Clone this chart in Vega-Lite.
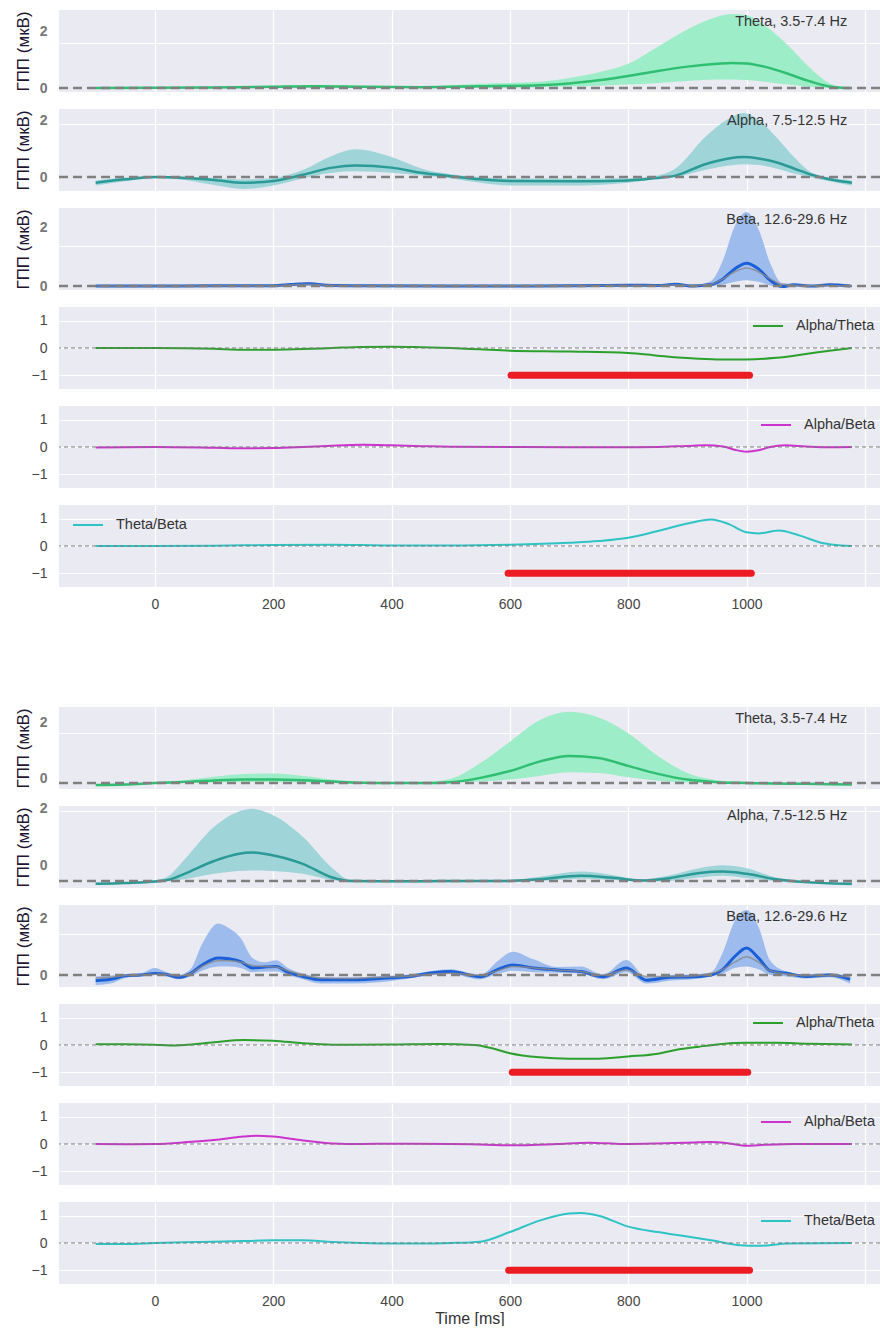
{
  "$schema": "https://vega.github.io/schema/vega-lite/v6.json",
  "background": "white",
  "padding": {"left": 14, "top": 10, "right": 0, "bottom": 0},
  "spacing": 17,
  "bounds": "flush",
  "resolve": {"scale": {"color": "independent"}, "legend": {"color": "independent"}},
  "config": {
    "view": {"fill": "#eaeaf2", "stroke": null},
    "font": "Liberation Sans",
    "axis": {"domain": false, "ticks": false, "gridColor": "#ffffff", "gridWidth": 1.2, "labelFont": "Liberation Sans", "labelFontSize": 14, "labelColor": "#444444", "titleFont": "Liberation Sans", "labelOverlap": false},
    "axisY": {"minExtent": 20, "maxExtent": 20, "labelPadding": 12, "titlePadding": 7, "titleFontSize": 17, "titleFontWeight": "normal", "titleColor": "#1e1433"},
    "axisX": {"labelPadding": 10, "titleFontSize": 16, "titleFontWeight": "normal", "titleColor": "#333333", "titlePadding": 2},
    "legend": {"title": null, "padding": 0, "symbolType": "stroke", "symbolSize": 900, "symbolStrokeWidth": 2, "labelFontSize": 14.5, "labelColor": "#333333", "labelFont": "Liberation Sans", "labelOffset": 12, "clipHeight": 28, "offset": 5}
  },
  "datasets": {
    "theta1": [
      {"t": -100, "lo": 0, "m": 0, "hi": 0.02}, {"t": 0, "lo": 0, "m": 0.01, "hi": 0.03}, {"t": 100, "lo": 0, "m": 0.02, "hi": 0.05},
      {"t": 200, "lo": 0.01, "m": 0.04, "hi": 0.08}, {"t": 270, "lo": 0.02, "m": 0.06, "hi": 0.11}, {"t": 350, "lo": 0.01, "m": 0.04, "hi": 0.08},
      {"t": 450, "lo": 0, "m": 0.03, "hi": 0.06}, {"t": 550, "lo": 0.01, "m": 0.06, "hi": 0.15}, {"t": 650, "lo": 0.03, "m": 0.1, "hi": 0.22},
      {"t": 700, "lo": 0.05, "m": 0.16, "hi": 0.35}, {"t": 750, "lo": 0.08, "m": 0.27, "hi": 0.55}, {"t": 800, "lo": 0.12, "m": 0.42, "hi": 0.85},
      {"t": 850, "lo": 0.18, "m": 0.6, "hi": 1.45}, {"t": 900, "lo": 0.25, "m": 0.75, "hi": 2.05}, {"t": 950, "lo": 0.3, "m": 0.85, "hi": 2.5},
      {"t": 975, "lo": 0.3, "m": 0.88, "hi": 2.6}, {"t": 1000, "lo": 0.28, "m": 0.86, "hi": 2.55}, {"t": 1030, "lo": 0.22, "m": 0.75, "hi": 2.2},
      {"t": 1070, "lo": 0.12, "m": 0.5, "hi": 1.5}, {"t": 1100, "lo": 0.05, "m": 0.28, "hi": 0.85}, {"t": 1130, "lo": 0.01, "m": 0.1, "hi": 0.3},
      {"t": 1150, "lo": 0, "m": 0.03, "hi": 0.08}, {"t": 1175, "lo": 0, "m": 0, "hi": 0.02}
    ],
    "alpha1": [
      {"t": -100, "lo": -0.3, "m": -0.2, "hi": -0.12}, {"t": -50, "lo": -0.15, "m": -0.08, "hi": -0.02}, {"t": 0, "lo": -0.03, "m": 0, "hi": 0.04},
      {"t": 50, "lo": -0.1, "m": -0.03, "hi": 0.01}, {"t": 100, "lo": -0.28, "m": -0.1, "hi": -0.03}, {"t": 150, "lo": -0.42, "m": -0.2, "hi": -0.08},
      {"t": 200, "lo": -0.3, "m": -0.14, "hi": -0.03}, {"t": 250, "lo": -0.05, "m": 0.08, "hi": 0.25}, {"t": 300, "lo": 0.15, "m": 0.33, "hi": 0.75},
      {"t": 340, "lo": 0.2, "m": 0.4, "hi": 0.97}, {"t": 400, "lo": 0.15, "m": 0.33, "hi": 0.7}, {"t": 450, "lo": 0.05, "m": 0.15, "hi": 0.3},
      {"t": 500, "lo": -0.05, "m": 0.03, "hi": 0.1}, {"t": 550, "lo": -0.2, "m": -0.08, "hi": 0}, {"t": 600, "lo": -0.3, "m": -0.14, "hi": -0.05},
      {"t": 700, "lo": -0.3, "m": -0.15, "hi": -0.05}, {"t": 800, "lo": -0.2, "m": -0.12, "hi": -0.04}, {"t": 850, "lo": -0.05, "m": -0.03, "hi": 0.05},
      {"t": 880, "lo": 0, "m": 0.05, "hi": 0.3}, {"t": 930, "lo": 0.25, "m": 0.45, "hi": 1.4}, {"t": 970, "lo": 0.4, "m": 0.65, "hi": 2.05},
      {"t": 995, "lo": 0.45, "m": 0.7, "hi": 2.25}, {"t": 1020, "lo": 0.42, "m": 0.65, "hi": 2.0}, {"t": 1050, "lo": 0.3, "m": 0.52, "hi": 1.4},
      {"t": 1080, "lo": 0.12, "m": 0.3, "hi": 0.7}, {"t": 1110, "lo": -0.02, "m": 0.08, "hi": 0.15}, {"t": 1140, "lo": -0.15, "m": -0.08, "hi": -0.02},
      {"t": 1178, "lo": -0.3, "m": -0.2, "hi": -0.12}
    ],
    "beta1": [
      {"t": -100, "lo": -0.03, "m": 0, "hi": 0.02, "g": 0}, {"t": 0, "lo": -0.02, "m": 0, "hi": 0.02, "g": 0}, {"t": 100, "lo": -0.02, "m": 0.01, "hi": 0.03, "g": 0.01},
      {"t": 200, "lo": -0.02, "m": 0.01, "hi": 0.03, "g": 0.01}, {"t": 230, "lo": 0, "m": 0.05, "hi": 0.1, "g": 0.04}, {"t": 260, "lo": 0.02, "m": 0.08, "hi": 0.14, "g": 0.06},
      {"t": 290, "lo": 0, "m": 0.03, "hi": 0.07, "g": 0.03}, {"t": 350, "lo": -0.02, "m": 0.01, "hi": 0.03, "g": 0.01}, {"t": 500, "lo": -0.02, "m": 0, "hi": 0.03, "g": 0.01},
      {"t": 700, "lo": -0.02, "m": 0.01, "hi": 0.04, "g": 0.01}, {"t": 800, "lo": -0.01, "m": 0.03, "hi": 0.06, "g": 0.02}, {"t": 850, "lo": -0.02, "m": 0.02, "hi": 0.05, "g": 0.02},
      {"t": 880, "lo": 0.02, "m": 0.06, "hi": 0.1, "g": 0.04}, {"t": 910, "lo": -0.03, "m": 0, "hi": 0.04, "g": 0.02}, {"t": 940, "lo": 0, "m": 0.05, "hi": 0.18, "g": 0.06},
      {"t": 960, "lo": 0.05, "m": 0.25, "hi": 0.9, "g": 0.25}, {"t": 980, "lo": 0.15, "m": 0.6, "hi": 2.1, "g": 0.5}, {"t": 1000, "lo": 0.2, "m": 0.8, "hi": 2.6, "g": 0.63},
      {"t": 1020, "lo": 0.15, "m": 0.6, "hi": 2.0, "g": 0.5}, {"t": 1040, "lo": 0.02, "m": 0.2, "hi": 0.8, "g": 0.25}, {"t": 1060, "lo": -0.05, "m": -0.02, "hi": 0.1, "g": 0.06},
      {"t": 1080, "lo": 0, "m": 0.04, "hi": 0.08, "g": 0.03}, {"t": 1110, "lo": -0.02, "m": 0, "hi": 0.03, "g": 0.01}, {"t": 1140, "lo": 0, "m": 0.04, "hi": 0.08, "g": 0.02},
      {"t": 1175, "lo": -0.03, "m": 0, "hi": 0.02, "g": 0}
    ],
    "at1": [
      {"t": -100, "v": 0}, {"t": 0, "v": 0}, {"t": 50, "v": -0.01}, {"t": 100, "v": -0.03}, {"t": 150, "v": -0.06}, {"t": 200, "v": -0.06},
      {"t": 250, "v": -0.04}, {"t": 300, "v": 0}, {"t": 350, "v": 0.04}, {"t": 400, "v": 0.05}, {"t": 450, "v": 0.03}, {"t": 500, "v": 0},
      {"t": 550, "v": -0.05}, {"t": 600, "v": -0.1}, {"t": 700, "v": -0.13}, {"t": 800, "v": -0.18}, {"t": 850, "v": -0.28}, {"t": 900, "v": -0.37},
      {"t": 950, "v": -0.42}, {"t": 1000, "v": -0.42}, {"t": 1050, "v": -0.36}, {"t": 1100, "v": -0.22}, {"t": 1140, "v": -0.1}, {"t": 1178, "v": 0}
    ],
    "ab1": [
      {"t": -100, "v": -0.02}, {"t": 0, "v": 0}, {"t": 100, "v": -0.03}, {"t": 150, "v": -0.05}, {"t": 200, "v": -0.04}, {"t": 250, "v": 0},
      {"t": 300, "v": 0.05}, {"t": 350, "v": 0.08}, {"t": 400, "v": 0.06}, {"t": 450, "v": 0.03}, {"t": 500, "v": 0.01}, {"t": 600, "v": 0},
      {"t": 700, "v": -0.01}, {"t": 800, "v": -0.01}, {"t": 850, "v": 0}, {"t": 900, "v": 0.04}, {"t": 930, "v": 0.06}, {"t": 960, "v": 0.02},
      {"t": 980, "v": -0.1}, {"t": 1000, "v": -0.17}, {"t": 1020, "v": -0.12}, {"t": 1040, "v": 0}, {"t": 1065, "v": 0.06}, {"t": 1100, "v": 0.02},
      {"t": 1140, "v": -0.01}, {"t": 1178, "v": 0}
    ],
    "tb1": [
      {"t": -100, "v": 0}, {"t": 0, "v": 0}, {"t": 100, "v": 0.01}, {"t": 200, "v": 0.04}, {"t": 300, "v": 0.05}, {"t": 400, "v": 0.02},
      {"t": 500, "v": 0.02}, {"t": 600, "v": 0.05}, {"t": 700, "v": 0.12}, {"t": 750, "v": 0.18}, {"t": 800, "v": 0.3}, {"t": 850, "v": 0.55},
      {"t": 900, "v": 0.82}, {"t": 940, "v": 0.97}, {"t": 970, "v": 0.8}, {"t": 1000, "v": 0.5}, {"t": 1020, "v": 0.46}, {"t": 1055, "v": 0.57},
      {"t": 1090, "v": 0.38}, {"t": 1130, "v": 0.1}, {"t": 1160, "v": 0.02}, {"t": 1178, "v": 0}
    ],
    "theta2": [
      {"t": -100, "lo": -0.1, "m": -0.07, "hi": -0.04}, {"t": -50, "lo": -0.08, "m": -0.05, "hi": -0.02}, {"t": 0, "lo": -0.03, "m": 0, "hi": 0.03},
      {"t": 50, "lo": 0, "m": 0.04, "hi": 0.1}, {"t": 100, "lo": 0.02, "m": 0.09, "hi": 0.22}, {"t": 150, "lo": 0.03, "m": 0.12, "hi": 0.32},
      {"t": 200, "lo": 0.03, "m": 0.12, "hi": 0.33}, {"t": 250, "lo": 0.02, "m": 0.1, "hi": 0.25}, {"t": 300, "lo": 0, "m": 0.05, "hi": 0.12},
      {"t": 350, "lo": -0.02, "m": 0.01, "hi": 0.04}, {"t": 400, "lo": -0.03, "m": 0, "hi": 0.02}, {"t": 450, "lo": -0.03, "m": 0, "hi": 0.03},
      {"t": 500, "lo": 0, "m": 0.03, "hi": 0.15}, {"t": 550, "lo": 0.05, "m": 0.18, "hi": 0.7}, {"t": 600, "lo": 0.12, "m": 0.42, "hi": 1.45},
      {"t": 650, "lo": 0.25, "m": 0.75, "hi": 2.2}, {"t": 700, "lo": 0.38, "m": 0.95, "hi": 2.5}, {"t": 750, "lo": 0.35, "m": 0.88, "hi": 2.3},
      {"t": 800, "lo": 0.2, "m": 0.6, "hi": 1.75}, {"t": 850, "lo": 0.08, "m": 0.32, "hi": 0.95}, {"t": 900, "lo": 0.02, "m": 0.12, "hi": 0.35},
      {"t": 950, "lo": 0, "m": 0.03, "hi": 0.1}, {"t": 1000, "lo": -0.03, "m": 0, "hi": 0.03}, {"t": 1100, "lo": -0.06, "m": -0.03, "hi": 0},
      {"t": 1178, "lo": -0.08, "m": -0.05, "hi": -0.02}
    ],
    "alpha2": [
      {"t": -100, "lo": -0.14, "m": -0.1, "hi": -0.06}, {"t": -50, "lo": -0.1, "m": -0.07, "hi": -0.04}, {"t": 0, "lo": -0.04, "m": -0.02, "hi": 0.02},
      {"t": 25, "lo": 0, "m": 0.05, "hi": 0.2}, {"t": 50, "lo": 0.06, "m": 0.25, "hi": 0.75}, {"t": 100, "lo": 0.25, "m": 0.7, "hi": 1.9},
      {"t": 140, "lo": 0.35, "m": 0.95, "hi": 2.42}, {"t": 165, "lo": 0.37, "m": 1.0, "hi": 2.53}, {"t": 190, "lo": 0.36, "m": 0.94, "hi": 2.4},
      {"t": 250, "lo": 0.25, "m": 0.6, "hi": 1.55}, {"t": 300, "lo": 0.03, "m": 0.12, "hi": 0.45}, {"t": 330, "lo": -0.03, "m": 0, "hi": 0.05},
      {"t": 400, "lo": -0.04, "m": -0.01, "hi": 0.02}, {"t": 500, "lo": -0.04, "m": 0, "hi": 0.03}, {"t": 600, "lo": -0.03, "m": 0, "hi": 0.04},
      {"t": 650, "lo": 0, "m": 0.06, "hi": 0.15}, {"t": 720, "lo": 0.08, "m": 0.18, "hi": 0.33}, {"t": 770, "lo": 0.04, "m": 0.12, "hi": 0.22},
      {"t": 820, "lo": -0.02, "m": 0.02, "hi": 0.06}, {"t": 870, "lo": 0, "m": 0.1, "hi": 0.2}, {"t": 920, "lo": 0.12, "m": 0.28, "hi": 0.45},
      {"t": 960, "lo": 0.18, "m": 0.33, "hi": 0.55}, {"t": 1000, "lo": 0.1, "m": 0.25, "hi": 0.45}, {"t": 1050, "lo": 0, "m": 0.06, "hi": 0.12},
      {"t": 1100, "lo": -0.08, "m": -0.04, "hi": 0}, {"t": 1178, "lo": -0.16, "m": -0.1, "hi": -0.06}
    ],
    "beta2": [
      {"t": -100, "lo": -0.35, "m": -0.2, "hi": -0.05, "g": -0.1}, {"t": -75, "lo": -0.3, "m": -0.15, "hi": -0.02, "g": -0.08}, {"t": -50, "lo": -0.1, "m": -0.03, "hi": 0.02, "g": -0.02},
      {"t": -25, "lo": -0.05, "m": 0, "hi": 0.05, "g": 0}, {"t": 0, "lo": 0, "m": 0.05, "hi": 0.25, "g": 0.03}, {"t": 20, "lo": -0.05, "m": 0.02, "hi": 0.1, "g": 0.02},
      {"t": 40, "lo": -0.15, "m": -0.08, "hi": 0, "g": -0.03}, {"t": 60, "lo": -0.05, "m": 0.05, "hi": 0.2, "g": 0.05}, {"t": 80, "lo": 0.15, "m": 0.35, "hi": 1.1, "g": 0.3},
      {"t": 107, "lo": 0.3, "m": 0.6, "hi": 1.81, "g": 0.5}, {"t": 125, "lo": 0.3, "m": 0.57, "hi": 1.65, "g": 0.5}, {"t": 145, "lo": 0.25, "m": 0.47, "hi": 1.3, "g": 0.45},
      {"t": 165, "lo": 0.1, "m": 0.25, "hi": 0.6, "g": 0.33}, {"t": 185, "lo": 0.12, "m": 0.28, "hi": 0.45, "g": 0.3}, {"t": 205, "lo": 0.12, "m": 0.3, "hi": 0.52, "g": 0.28},
      {"t": 225, "lo": 0, "m": 0.1, "hi": 0.25, "g": 0.15}, {"t": 250, "lo": -0.15, "m": -0.05, "hi": 0.05, "g": 0}, {"t": 280, "lo": -0.3, "m": -0.17, "hi": -0.08, "g": -0.1},
      {"t": 330, "lo": -0.3, "m": -0.17, "hi": -0.08, "g": -0.12}, {"t": 380, "lo": -0.25, "m": -0.12, "hi": -0.03, "g": -0.08}, {"t": 430, "lo": -0.12, "m": -0.05, "hi": 0.02, "g": -0.04},
      {"t": 470, "lo": 0, "m": 0.08, "hi": 0.15, "g": 0.04}, {"t": 500, "lo": 0.04, "m": 0.12, "hi": 0.2, "g": 0.06}, {"t": 550, "lo": -0.15, "m": -0.06, "hi": 0, "g": 0},
      {"t": 580, "lo": 0.05, "m": 0.2, "hi": 0.5, "g": 0.15}, {"t": 605, "lo": 0.15, "m": 0.35, "hi": 0.82, "g": 0.3}, {"t": 640, "lo": 0.1, "m": 0.25, "hi": 0.55, "g": 0.25},
      {"t": 680, "lo": 0.08, "m": 0.18, "hi": 0.28, "g": 0.18}, {"t": 720, "lo": 0.05, "m": 0.12, "hi": 0.3, "g": 0.12}, {"t": 757, "lo": -0.15, "m": -0.06, "hi": 0.02, "g": 0},
      {"t": 797, "lo": 0.1, "m": 0.25, "hi": 0.53, "g": 0.18}, {"t": 831, "lo": -0.3, "m": -0.18, "hi": -0.08, "g": -0.05}, {"t": 870, "lo": -0.2, "m": -0.08, "hi": 0, "g": -0.05},
      {"t": 910, "lo": -0.15, "m": -0.06, "hi": 0.02, "g": -0.03}, {"t": 940, "lo": -0.05, "m": 0, "hi": 0.1, "g": 0.05}, {"t": 960, "lo": 0.05, "m": 0.2, "hi": 0.8, "g": 0.2},
      {"t": 980, "lo": 0.25, "m": 0.65, "hi": 1.9, "g": 0.45}, {"t": 1000, "lo": 0.3, "m": 0.95, "hi": 2.28, "g": 0.64}, {"t": 1020, "lo": 0.2, "m": 0.6, "hi": 1.7, "g": 0.45},
      {"t": 1040, "lo": 0, "m": 0.15, "hi": 0.5, "g": 0.15}, {"t": 1068, "lo": -0.05, "m": 0.06, "hi": 0.12, "g": 0.04}, {"t": 1100, "lo": -0.12, "m": -0.05, "hi": 0.02, "g": -0.02},
      {"t": 1140, "lo": -0.08, "m": 0, "hi": 0.06, "g": -0.02}, {"t": 1175, "lo": -0.3, "m": -0.15, "hi": -0.05, "g": -0.08}
    ],
    "at2": [
      {"t": -100, "v": 0.03}, {"t": -50, "v": 0.03}, {"t": 0, "v": 0.01}, {"t": 25, "v": -0.02}, {"t": 50, "v": 0}, {"t": 100, "v": 0.1},
      {"t": 150, "v": 0.18}, {"t": 200, "v": 0.16}, {"t": 250, "v": 0.06}, {"t": 300, "v": 0.01}, {"t": 400, "v": 0.02}, {"t": 480, "v": 0.04},
      {"t": 540, "v": 0}, {"t": 570, "v": -0.12}, {"t": 600, "v": -0.3}, {"t": 650, "v": -0.45}, {"t": 700, "v": -0.5}, {"t": 750, "v": -0.5},
      {"t": 800, "v": -0.42}, {"t": 850, "v": -0.32}, {"t": 880, "v": -0.18}, {"t": 920, "v": -0.06}, {"t": 960, "v": 0.04}, {"t": 1000, "v": 0.08},
      {"t": 1050, "v": 0.08}, {"t": 1100, "v": 0.05}, {"t": 1178, "v": 0.02}
    ],
    "ab2": [
      {"t": -100, "v": 0}, {"t": -50, "v": -0.01}, {"t": 0, "v": 0}, {"t": 50, "v": 0.06}, {"t": 100, "v": 0.15}, {"t": 150, "v": 0.27},
      {"t": 170, "v": 0.3}, {"t": 200, "v": 0.27}, {"t": 250, "v": 0.13}, {"t": 300, "v": 0.02}, {"t": 350, "v": 0}, {"t": 400, "v": 0.01},
      {"t": 500, "v": 0}, {"t": 550, "v": -0.02}, {"t": 620, "v": -0.05}, {"t": 680, "v": 0}, {"t": 735, "v": 0.05}, {"t": 790, "v": 0},
      {"t": 850, "v": 0.02}, {"t": 900, "v": 0.05}, {"t": 940, "v": 0.07}, {"t": 970, "v": 0.02}, {"t": 1000, "v": -0.06}, {"t": 1030, "v": -0.03},
      {"t": 1080, "v": 0}, {"t": 1178, "v": 0}
    ],
    "tb2": [
      {"t": -100, "v": -0.04}, {"t": -50, "v": -0.04}, {"t": 0, "v": 0}, {"t": 50, "v": 0.03}, {"t": 100, "v": 0.05}, {"t": 150, "v": 0.07},
      {"t": 200, "v": 0.1}, {"t": 250, "v": 0.1}, {"t": 300, "v": 0.04}, {"t": 350, "v": 0}, {"t": 400, "v": -0.02}, {"t": 450, "v": -0.02},
      {"t": 500, "v": 0}, {"t": 550, "v": 0.05}, {"t": 600, "v": 0.4}, {"t": 650, "v": 0.82}, {"t": 700, "v": 1.08}, {"t": 720, "v": 1.1},
      {"t": 750, "v": 1.0}, {"t": 800, "v": 0.6}, {"t": 850, "v": 0.4}, {"t": 880, "v": 0.3}, {"t": 940, "v": 0.1}, {"t": 990, "v": -0.08},
      {"t": 1020, "v": -0.1}, {"t": 1070, "v": -0.02}, {"t": 1178, "v": 0}
    ],
    "sig_at1": [{"t0": 602, "t1": 1005, "y": -1}],
    "sig_tb1": [{"t0": 597, "t1": 1008, "y": -1}],
    "sig_at2": [{"t0": 604, "t1": 1002, "y": -1}],
    "sig_tb2": [{"t0": 598, "t1": 1005, "y": -1}]
  },
  "vconcat": [
    {
      "width": 821, "height": 82,
      "layer": [
        {"data": {"name": "theta1"}, "mark": {"type": "area", "interpolate": "monotone", "color": "#9eedc9", "opacity": 1},
         "encoding": {
           "x": {"field": "t", "type": "quantitative", "title": null, "scale": {"domain": [-162, 1225.5], "nice": false, "zero": false}, "axis": {"values": [0, 200, 400, 600, 800, 1000, 1200], "labels": false}},
           "y": {"field": "lo", "type": "quantitative", "title": "ГПП (мкВ)", "scale": {"domain": [-0.14, 2.737], "nice": false, "zero": false},
                 "axis": {"values": [0, 1.58, 2], "labelExpr": "datum.value == 0 ? '0' : datum.value == 2 ? '2' : ''", "labelColor": "#777777", "labelFontWeight": "bold", "gridColor": {"condition": {"test": "datum.value == 1.58", "value": "#ffffff"}, "value": "transparent"}}},
           "y2": {"field": "hi"}}},
        {"data": {"name": "theta1"}, "mark": {"type": "line", "interpolate": "monotone", "color": "#2fbf70", "strokeWidth": 2.5},
         "encoding": {"x": {"field": "t", "type": "quantitative", "title": null}, "y": {"field": "m", "type": "quantitative", "title": "ГПП (мкВ)"}}},
        {"data": {"values": [{}]}, "mark": {"type": "rule", "color": "#808080", "strokeWidth": 2.5, "strokeDash": [9, 5]}, "encoding": {"y": {"datum": 0}}},
        {"data": {"values": [{"label": "Theta, 3.5-7.4 Hz"}]}, "mark": {"type": "text", "align": "right", "baseline": "middle", "fontSize": 14.5, "color": "#333333", "font": "Liberation Sans"},
         "encoding": {"x": {"datum": 1170}, "y": {"datum": 2.32}, "text": {"field": "label"}}}
      ]
    },
    {
      "width": 821, "height": 82,
      "layer": [
        {"data": {"name": "alpha1"}, "mark": {"type": "area", "interpolate": "monotone", "color": "#9fd4d8", "opacity": 1},
         "encoding": {
           "x": {"field": "t", "type": "quantitative", "title": null, "scale": {"domain": [-162, 1225.5], "nice": false, "zero": false}, "axis": {"values": [0, 200, 400, 600, 800, 1000, 1200], "labels": false}},
           "y": {"field": "lo", "type": "quantitative", "title": "ГПП (мкВ)", "scale": {"domain": [-0.49, 2.386], "nice": false, "zero": false},
                 "axis": {"values": [0, 1.86, 2], "labelExpr": "datum.value == 0 ? '0' : datum.value == 2 ? '2' : ''", "labelColor": "#777777", "labelFontWeight": "bold", "gridColor": {"condition": {"test": "datum.value == 1.86", "value": "#ffffff"}, "value": "transparent"}}},
           "y2": {"field": "hi"}}},
        {"data": {"name": "alpha1"}, "mark": {"type": "line", "interpolate": "monotone", "color": "#2a9a96", "strokeWidth": 2.5},
         "encoding": {"x": {"field": "t", "type": "quantitative", "title": null}, "y": {"field": "m", "type": "quantitative", "title": "ГПП (мкВ)"}}},
        {"data": {"values": [{}]}, "mark": {"type": "rule", "color": "#808080", "strokeWidth": 2.5, "strokeDash": [9, 5]}, "encoding": {"y": {"datum": 0}}},
        {"data": {"values": [{"label": "Alpha, 7.5-12.5 Hz"}]}, "mark": {"type": "text", "align": "right", "baseline": "middle", "fontSize": 14.5, "color": "#333333", "font": "Liberation Sans"},
         "encoding": {"x": {"datum": 1170}, "y": {"datum": 1.965}, "text": {"field": "label"}}}
      ]
    },
    {
      "width": 821, "height": 82,
      "layer": [
        {"data": {"name": "beta1"}, "mark": {"type": "area", "interpolate": "monotone", "color": "#9dbbec", "opacity": 1},
         "encoding": {
           "x": {"field": "t", "type": "quantitative", "title": null, "scale": {"domain": [-162, 1225.5], "nice": false, "zero": false}, "axis": {"values": [0, 200, 400, 600, 800, 1000, 1200], "labels": false}},
           "y": {"field": "lo", "type": "quantitative", "title": "ГПП (мкВ)", "scale": {"domain": [-0.14, 2.737], "nice": false, "zero": false},
                 "axis": {"values": [0, 1.4, 2.07], "labelExpr": "datum.value == 0 ? '0' : datum.value == 2.07 ? '2' : ''", "labelColor": "#777777", "labelFontWeight": "bold", "gridColor": {"condition": {"test": "datum.value == 1.4", "value": "#ffffff"}, "value": "transparent"}}},
           "y2": {"field": "hi"}}},
        {"data": {"name": "beta1"}, "mark": {"type": "line", "interpolate": "monotone", "color": "#1b5fd8", "strokeWidth": 3},
         "encoding": {"x": {"field": "t", "type": "quantitative", "title": null}, "y": {"field": "m", "type": "quantitative", "title": "ГПП (мкВ)"}}},
        {"data": {"name": "beta1"}, "mark": {"type": "line", "interpolate": "monotone", "color": "#8a8a8a", "strokeWidth": 1.5, "opacity": 0.8},
         "encoding": {"x": {"field": "t", "type": "quantitative", "title": null}, "y": {"field": "g", "type": "quantitative", "title": "ГПП (мкВ)"}}},
        {"data": {"values": [{}]}, "mark": {"type": "rule", "color": "#808080", "strokeWidth": 2.5, "strokeDash": [9, 5]}, "encoding": {"y": {"datum": 0}}},
        {"data": {"values": [{"label": "Beta, 12.6-29.6 Hz"}]}, "mark": {"type": "text", "align": "right", "baseline": "middle", "fontSize": 14.5, "color": "#333333", "font": "Liberation Sans"},
         "encoding": {"x": {"datum": 1170}, "y": {"datum": 2.32}, "text": {"field": "label"}}}
      ]
    },
    {
      "width": 821, "height": 82,
      "layer": [
        {"data": {"name": "at1"}, "mark": {"type": "line", "interpolate": "monotone", "strokeWidth": 2},
         "encoding": {
           "x": {"field": "t", "type": "quantitative", "title": null, "scale": {"domain": [-162, 1225.5], "nice": false, "zero": false}, "axis": {"values": [0, 200, 400, 600, 800, 1000, 1200], "labels": false}},
           "y": {"field": "v", "type": "quantitative", "title": null, "scale": {"domain": [-1.5, 1.5], "nice": false, "zero": false}, "axis": {"values": [-1, 0, 1]}},
           "color": {"datum": "Alpha/Theta", "scale": {"range": ["#2ca02c"]}, "legend": {"orient": "top-right"}}}},
        {"data": {"name": "sig_at1"}, "mark": {"type": "rule", "color": "#ec1c24", "strokeWidth": 7, "strokeCap": "round"},
         "encoding": {"x": {"field": "t0", "type": "quantitative", "title": null}, "x2": {"field": "t1"}, "y": {"field": "y", "type": "quantitative", "title": null}}},
        {"data": {"values": [{}]}, "mark": {"type": "rule", "color": "#7a7a7a", "strokeWidth": 1, "strokeDash": [4, 3]}, "encoding": {"y": {"datum": 0}}}
      ]
    },
    {
      "width": 821, "height": 82,
      "layer": [
        {"data": {"name": "ab1"}, "mark": {"type": "line", "interpolate": "monotone", "strokeWidth": 2},
         "encoding": {
           "x": {"field": "t", "type": "quantitative", "title": null, "scale": {"domain": [-162, 1225.5], "nice": false, "zero": false}, "axis": {"values": [0, 200, 400, 600, 800, 1000, 1200], "labels": false}},
           "y": {"field": "v", "type": "quantitative", "title": null, "scale": {"domain": [-1.5, 1.5], "nice": false, "zero": false}, "axis": {"values": [-1, 0, 1]}},
           "color": {"datum": "Alpha/Beta", "scale": {"range": ["#cc33cc"]}, "legend": {"orient": "top-right"}}}},
        {"data": {"values": [{}]}, "mark": {"type": "rule", "color": "#7a7a7a", "strokeWidth": 1, "strokeDash": [4, 3]}, "encoding": {"y": {"datum": 0}}}
      ]
    },
    {
      "width": 821, "height": 82,
      "layer": [
        {"data": {"name": "tb1"}, "mark": {"type": "line", "interpolate": "monotone", "strokeWidth": 2},
         "encoding": {
           "x": {"field": "t", "type": "quantitative", "title": null, "scale": {"domain": [-162, 1225.5], "nice": false, "zero": false}, "axis": {"values": [0, 200, 400, 600, 800, 1000, 1200], "format": "d", "labelExpr": "datum.value == 1200 ? '' : datum.label"}},
           "y": {"field": "v", "type": "quantitative", "title": null, "scale": {"domain": [-1.5, 1.5], "nice": false, "zero": false}, "axis": {"values": [-1, 0, 1]}},
           "color": {"datum": "Theta/Beta", "scale": {"range": ["#2ec4c4"]}, "legend": {"orient": "top-left", "offset": 13, "clipHeight": 14}}}},
        {"data": {"name": "sig_tb1"}, "mark": {"type": "rule", "color": "#ec1c24", "strokeWidth": 7, "strokeCap": "round"},
         "encoding": {"x": {"field": "t0", "type": "quantitative", "title": null}, "x2": {"field": "t1"}, "y": {"field": "y", "type": "quantitative", "title": null}}},
        {"data": {"values": [{}]}, "mark": {"type": "rule", "color": "#7a7a7a", "strokeWidth": 1, "strokeDash": [4, 3]}, "encoding": {"y": {"datum": 0}}}
      ]
    },
    {
      "width": 821, "height": 86,
      "view": {"fill": "transparent", "stroke": null},
      "data": {"values": []},
      "mark": {"type": "point", "opacity": 0},
      "encoding": {}
    },
    {
      "width": 821, "height": 82,
      "layer": [
        {"data": {"name": "theta2"}, "mark": {"type": "area", "interpolate": "monotone", "color": "#9eedc9", "opacity": 1},
         "encoding": {
           "x": {"field": "t", "type": "quantitative", "title": null, "scale": {"domain": [-162, 1225.5], "nice": false, "zero": false}, "axis": {"values": [0, 200, 400, 600, 800, 1000, 1200], "labels": false}},
           "y": {"field": "lo", "type": "quantitative", "title": "ГПП (мкВ)", "scale": {"domain": [-0.21, 2.667], "nice": false, "zero": false},
                 "axis": {"values": [0.175, 1.75, 2.14], "labelExpr": "datum.value == 0.175 ? '0' : datum.value == 2.14 ? '2' : ''", "labelColor": "#777777", "labelFontWeight": "bold", "gridColor": {"condition": {"test": "datum.value == 1.75", "value": "#ffffff"}, "value": "transparent"}}},
           "y2": {"field": "hi"}}},
        {"data": {"name": "theta2"}, "mark": {"type": "line", "interpolate": "monotone", "color": "#2fbf70", "strokeWidth": 2.5},
         "encoding": {"x": {"field": "t", "type": "quantitative", "title": null}, "y": {"field": "m", "type": "quantitative", "title": "ГПП (мкВ)"}}},
        {"data": {"values": [{}]}, "mark": {"type": "rule", "color": "#808080", "strokeWidth": 2.5, "strokeDash": [9, 5]}, "encoding": {"y": {"datum": 0}}},
        {"data": {"values": [{"label": "Theta, 3.5-7.4 Hz"}]}, "mark": {"type": "text", "align": "right", "baseline": "middle", "fontSize": 14.5, "color": "#333333", "font": "Liberation Sans"},
         "encoding": {"x": {"datum": 1170}, "y": {"datum": 2.246}, "text": {"field": "label"}}}
      ]
    },
    {
      "width": 821, "height": 82,
      "layer": [
        {"data": {"name": "alpha2"}, "mark": {"type": "area", "interpolate": "monotone", "color": "#9fd4d8", "opacity": 1},
         "encoding": {
           "x": {"field": "t", "type": "quantitative", "title": null, "scale": {"domain": [-162, 1225.5], "nice": false, "zero": false}, "axis": {"values": [0, 200, 400, 600, 800, 1000, 1200], "labels": false}},
           "y": {"field": "lo", "type": "quantitative", "title": "ГПП (мкВ)", "scale": {"domain": [-0.246, 2.63], "nice": false, "zero": false},
                 "axis": {"values": [0.53, 2.46, 2.53], "labelExpr": "datum.value == 0.53 ? '0' : datum.value == 2.53 ? '2' : ''", "labelColor": "#777777", "labelFontWeight": "bold", "gridColor": {"condition": {"test": "datum.value == 2.46", "value": "#ffffff"}, "value": "transparent"}}},
           "y2": {"field": "hi"}}},
        {"data": {"name": "alpha2"}, "mark": {"type": "line", "interpolate": "monotone", "color": "#2a9a96", "strokeWidth": 2.5},
         "encoding": {"x": {"field": "t", "type": "quantitative", "title": null}, "y": {"field": "m", "type": "quantitative", "title": "ГПП (мкВ)"}}},
        {"data": {"values": [{}]}, "mark": {"type": "rule", "color": "#808080", "strokeWidth": 2.5, "strokeDash": [9, 5]}, "encoding": {"y": {"datum": 0}}},
        {"data": {"values": [{"label": "Alpha, 7.5-12.5 Hz"}]}, "mark": {"type": "text", "align": "right", "baseline": "middle", "fontSize": 14.5, "color": "#333333", "font": "Liberation Sans"},
         "encoding": {"x": {"datum": 1170}, "y": {"datum": 2.28}, "text": {"field": "label"}}}
      ]
    },
    {
      "width": 821, "height": 82,
      "layer": [
        {"data": {"name": "beta2"}, "mark": {"type": "area", "interpolate": "monotone", "color": "#9dbbec", "opacity": 1},
         "encoding": {
           "x": {"field": "t", "type": "quantitative", "title": null, "scale": {"domain": [-162, 1225.5], "nice": false, "zero": false}, "axis": {"values": [0, 200, 400, 600, 800, 1000, 1200], "labels": false}},
           "y": {"field": "lo", "type": "quantitative", "title": "ГПП (мкВ)", "scale": {"domain": [-0.42, 2.456], "nice": false, "zero": false},
                 "axis": {"values": [0, 1.44, 2], "labelExpr": "datum.value == 0 ? '0' : datum.value == 2 ? '2' : ''", "labelColor": "#777777", "labelFontWeight": "bold", "gridColor": {"condition": {"test": "datum.value == 1.44", "value": "#ffffff"}, "value": "transparent"}}},
           "y2": {"field": "hi"}}},
        {"data": {"name": "beta2"}, "mark": {"type": "line", "interpolate": "monotone", "color": "#1b5fd8", "strokeWidth": 3},
         "encoding": {"x": {"field": "t", "type": "quantitative", "title": null}, "y": {"field": "m", "type": "quantitative", "title": "ГПП (мкВ)"}}},
        {"data": {"name": "beta2"}, "mark": {"type": "line", "interpolate": "monotone", "color": "#8a8a8a", "strokeWidth": 1.5, "opacity": 0.8},
         "encoding": {"x": {"field": "t", "type": "quantitative", "title": null}, "y": {"field": "g", "type": "quantitative", "title": "ГПП (мкВ)"}}},
        {"data": {"values": [{}]}, "mark": {"type": "rule", "color": "#808080", "strokeWidth": 2.5, "strokeDash": [9, 5]}, "encoding": {"y": {"datum": 0}}},
        {"data": {"values": [{"label": "Beta, 12.6-29.6 Hz"}]}, "mark": {"type": "text", "align": "right", "baseline": "middle", "fontSize": 14.5, "color": "#333333", "font": "Liberation Sans"},
         "encoding": {"x": {"datum": 1170}, "y": {"datum": 2.035}, "text": {"field": "label"}}}
      ]
    },
    {
      "width": 821, "height": 82,
      "layer": [
        {"data": {"name": "at2"}, "mark": {"type": "line", "interpolate": "monotone", "strokeWidth": 2},
         "encoding": {
           "x": {"field": "t", "type": "quantitative", "title": null, "scale": {"domain": [-162, 1225.5], "nice": false, "zero": false}, "axis": {"values": [0, 200, 400, 600, 800, 1000, 1200], "labels": false}},
           "y": {"field": "v", "type": "quantitative", "title": null, "scale": {"domain": [-1.5, 1.5], "nice": false, "zero": false}, "axis": {"values": [-1, 0, 1]}},
           "color": {"datum": "Alpha/Theta", "scale": {"range": ["#2ca02c"]}, "legend": {"orient": "top-right"}}}},
        {"data": {"name": "sig_at2"}, "mark": {"type": "rule", "color": "#ec1c24", "strokeWidth": 7, "strokeCap": "round"},
         "encoding": {"x": {"field": "t0", "type": "quantitative", "title": null}, "x2": {"field": "t1"}, "y": {"field": "y", "type": "quantitative", "title": null}}},
        {"data": {"values": [{}]}, "mark": {"type": "rule", "color": "#7a7a7a", "strokeWidth": 1, "strokeDash": [4, 3]}, "encoding": {"y": {"datum": 0}}}
      ]
    },
    {
      "width": 821, "height": 82,
      "layer": [
        {"data": {"name": "ab2"}, "mark": {"type": "line", "interpolate": "monotone", "strokeWidth": 2},
         "encoding": {
           "x": {"field": "t", "type": "quantitative", "title": null, "scale": {"domain": [-162, 1225.5], "nice": false, "zero": false}, "axis": {"values": [0, 200, 400, 600, 800, 1000, 1200], "labels": false}},
           "y": {"field": "v", "type": "quantitative", "title": null, "scale": {"domain": [-1.5, 1.5], "nice": false, "zero": false}, "axis": {"values": [-1, 0, 1]}},
           "color": {"datum": "Alpha/Beta", "scale": {"range": ["#cc33cc"]}, "legend": {"orient": "top-right"}}}},
        {"data": {"values": [{}]}, "mark": {"type": "rule", "color": "#7a7a7a", "strokeWidth": 1, "strokeDash": [4, 3]}, "encoding": {"y": {"datum": 0}}}
      ]
    },
    {
      "width": 821, "height": 82,
      "layer": [
        {"data": {"name": "tb2"}, "mark": {"type": "line", "interpolate": "monotone", "strokeWidth": 2},
         "encoding": {
           "x": {"field": "t", "type": "quantitative", "title": "Time [ms]", "scale": {"domain": [-162, 1225.5], "nice": false, "zero": false}, "axis": {"values": [0, 200, 400, 600, 800, 1000, 1200], "format": "d", "labelExpr": "datum.value == 1200 ? '' : datum.label"}},
           "y": {"field": "v", "type": "quantitative", "title": null, "scale": {"domain": [-1.5, 1.5], "nice": false, "zero": false}, "axis": {"values": [-1, 0, 1]}},
           "color": {"datum": "Theta/Beta", "scale": {"range": ["#2ec4c4"]}, "legend": {"orient": "top-right"}}}},
        {"data": {"name": "sig_tb2"}, "mark": {"type": "rule", "color": "#ec1c24", "strokeWidth": 7, "strokeCap": "round"},
         "encoding": {"x": {"field": "t0", "type": "quantitative", "title": "Time [ms]"}, "x2": {"field": "t1"}, "y": {"field": "y", "type": "quantitative", "title": null}}},
        {"data": {"values": [{}]}, "mark": {"type": "rule", "color": "#7a7a7a", "strokeWidth": 1, "strokeDash": [4, 3]}, "encoding": {"y": {"datum": 0}}}
      ]
    }
  ]
}
